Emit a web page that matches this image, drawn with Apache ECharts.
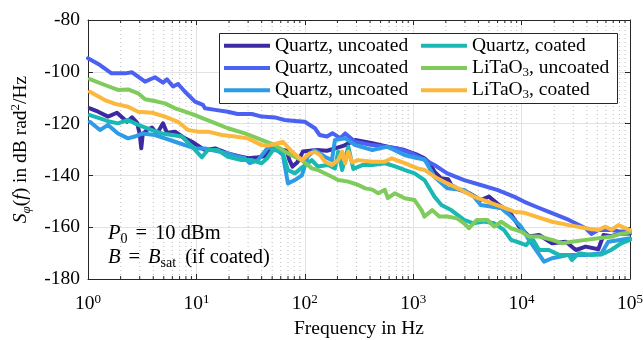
<!DOCTYPE html>
<html>
<head>
<meta charset="utf-8">
<script src="https://cdn.jsdelivr.net/npm/echarts@6/dist/echarts.min.js"></script>
<style>
  html, body { margin: 0; padding: 0; background: #ffffff; }
  #chart { width: 643px; height: 340px; }
</style>
</head>
<body>
<div id="chart"></div>
<script>
// Phase-noise spectra [frequency in Hz, S_phi in dB rad^2/Hz]
const quartzUncoated1 = [
  [1.04,-114.1],[1.24,-115.4],[1.53,-117.3],[1.85,-115.8],[2.29,-119.3],[2.55,-117.6],[2.83,-119.6],
  [3.0,-124],[3.1,-129.5],[3.2,-124],[3.5,-122.5],[3.89,-121.5],[4.33,-123.8],[4.6,-122],[4.92,-119.9],
  [5.35,-123.5],[6.35,-123.1],[7.85,-125.7],[9.1,-127],[11.3,-129.6],[12,-130.2],[14.9,-129.6],
  [19.5,-131.5],[24,-132.5],[30,-133.4],[37,-133],[44,-132.5],[47,-129.6],[60,-130],[68,-130.5],
  [72,-134],[77,-136.6],[85,-135],[96,-130.8],[129,-130.2],[160,-130.5],[190,-129.6],[230,-128.5],
  [292,-126.3],[420,-127.6],[580,-128.9],[830,-130.2],[1100,-132.1],[1270,-133.4],[1420,-135.3],
  [1570,-138.6],[1800,-141.1],[2100,-141.5],[2250,-143.7],[2700,-145.6],[3300,-146.9],[4200,-149.5],
  [5000,-148.2],[6200,-151.4],[7700,-154],[9500,-159.8],[11700,-163.6],[14500,-163],[19100,-166.2],
  [25600,-165.6],[31700,-168.8],[39000,-167.5],[51000,-168.5],[57000,-163],[67000,-163.5],
  [80000,-162.5],[100000,-162.4]
];
const quartzUncoated2 = [
  [1.0,-94.8],[1.29,-97.4],[1.65,-100.6],[2.2,-100.6],[2.55,-100.2],[3.36,-103.8],[4.15,-102.1],
  [4.92,-104.2],[5.35,-102.9],[6.09,-105.7],[6.77,-104.7],[7.85,-107.7],[9.7,-111.5],[11.5,-112.8],
  [12,-114.1],[14.9,-114.7],[19.5,-115.4],[24,-116.3],[32.5,-116.3],[40,-117.3],[53,-117.6],
  [65,-118.6],[81,-119],[100,-119.3],[116,-121],[124,-121.8],[137,-124.4],[160,-125],[180,-123.7],
  [212,-125.6],[236,-123.8],[292,-127],[420,-128.3],[550,-128.9],[720,-129.6],[970,-131.5],
  [1270,-134],[1570,-136],[2060,-139.2],[2950,-141.8],[4200,-143.7],[5950,-145.6],[8500,-148.2],
  [10500,-150.1],[13600,-152.1],[19100,-154.6],[27300,-157.2],[39000,-160.4],[44000,-162.6],
  [51000,-161.1],[67000,-161.1],[83000,-161.7],[100000,-161.7]
];
const quartzUncoated3 = [
  [1.04,-119.3],[1.29,-122.5],[1.53,-120.5],[1.89,-123.8],[2.34,-125.7],[2.7,-125],[3.2,-123.8],
  [4.15,-124.4],[5.13,-125.7],[6.35,-127],[7.85,-128.3],[9.7,-129.6],[12,-129.6],[14.9,-130.5],
  [19.5,-131.5],[22.6,-132.5],[28,-133.4],[31,-135.3],[37,-134.1],[45.7,-129.2],[53,-129.6],
  [62.8,-132.1],[69.9,-143.1],[81,-141.8],[94,-140],[106,-132.8],[123,-130.2],[153,-132.8],
  [178,-134.1],[190,-126.3],[236,-125.7],[292,-128.3],[420,-130.2],[580,-128.9],[830,-132.1],
  [1100,-133.4],[1270,-133.8],[1570,-140.5],[2060,-145],[2950,-145.6],[3600,-148],[4200,-151.4],
  [5200,-152],[6500,-152.7],[8000,-155.9],[9900,-159.8],[11700,-164.9],[13600,-168.8],
  [16100,-173.3],[19100,-172],[27300,-170.7],[39000,-170.7],[54600,-170.1],[63000,-165.6],
  [78000,-165],[100000,-164.3]
];
const quartzCoated = [
  [1.04,-116.7],[1.29,-118],[1.6,-119.3],[1.89,-119.9],[2.34,-118.6],[2.9,-120.5],[3.9,-122.5],
  [4.8,-123.8],[5.96,-124.4],[7.37,-125],[9.1,-128.9],[11.25,-133],[12,-131.5],[12.8,-130.2],
  [15.8,-130.2],[19.5,-132.8],[26,-134.1],[32.5,-134.1],[40,-135.3],[44.7,-133.5],[50.8,-130.2],
  [61.5,-130.5],[69.9,-137.9],[81,-139.2],[94,-137],[116,-134.1],[132,-136.6],[164,-136],
  [190,-137.3],[203,-130.8],[221,-137.9],[252,-128.9],[280,-137.5],[339,-136],[420,-136],
  [550,-135.3],[680,-136.5],[830,-137.9],[1030,-139.2],[1270,-141.8],[1570,-148.2],[1820,-151.4],
  [2240,-153.4],[2950,-157.2],[3600,-158.5],[4500,-157.8],[5600,-158.5],[6900,-161.1],[8000,-164.9],
  [9900,-166.2],[11000,-166.9],[12500,-164.3],[14500,-168.8],[17900,-168.8],[22100,-170.7],
  [27300,-170.7],[29100,-172.7],[33700,-170.1],[44000,-170.7],[54600,-170.5],[67000,-168.8],
  [83000,-166.2],[100000,-164.9]
];
const litaoUncoated = [
  [1.04,-102.8],[1.43,-105.1],[1.89,-107],[2.34,-106.8],[2.9,-108.3],[3.36,-110.6],[4.33,-111.5],
  [5.13,-112.2],[6.35,-114.1],[7.85,-115.4],[9.7,-116.7],[11.5,-118],[13.9,-119.3],[19.5,-121.8],
  [28,-123.8],[40,-126.3],[53,-128.3],[69.9,-131.5],[94,-134.1],[116,-137.3],[132,-137.9],
  [178,-140.5],[203,-141.8],[252,-142.4],[312,-143.7],[361,-145],[419,-145.5],[475,-146.9],
  [548,-145.6],[583,-148.8],[676,-146.9],[834,-148.8],[1030,-149.5],[1193,-153.4],[1270,-155.9],
  [1325,-156.6],[1500,-153.4],[1740,-155.9],[2060,-155.9],[2540,-156.6],[2950,-158.5],[3270,-160.4],
  [3870,-157.2],[4830,-157.2],[5590,-159.8],[6490,-157.9],[8000,-160.4],[9900,-161.7],[11700,-163.6],
  [14500,-163.6],[19100,-164.9],[23600,-166.2],[29100,-165.6],[39000,-164.9],[51000,-164.3],
  [67500,-163.6],[83000,-162.5],[100000,-162]
];
const litaoCoated = [
  [1.04,-107.7],[1.43,-110.9],[1.78,-112.4],[2.34,-113.5],[2.9,-115.4],[3.9,-115.8],[5.13,-117.3],
  [6.77,-119.3],[8.37,-122.5],[10.35,-123.1],[12.8,-123.1],[17.2,-124.4],[22.6,-125],[29.9,-125.7],
  [40,-128.3],[45.7,-128.5],[53,-127.9],[62.8,-127],[76,-130.8],[94,-134.1],[111,-131.5],[124,-131],
  [138,-132.1],[153,-134.7],[178,-136],[203,-134.1],[221,-130.8],[236,-135.3],[252,-130.8],[274,-135],
  [312,-134.1],[419,-134.7],[548,-134.7],[635,-133.4],[834,-135.3],[1100,-137.3],[1270,-137.9],
  [1570,-140.5],[2060,-143.1],[2770,-145.6],[3630,-148.2],[4830,-150.1],[6490,-152.1],[8540,-154],
  [10500,-154.4],[13600,-155.9],[19100,-157.9],[27300,-159.2],[39000,-160.4],[51000,-161.1],
  [59400,-159.8],[67500,-161],[78000,-159.2],[100000,-161.1]
];

// Axis ticks
const xDecades = [1, 10, 100, 1000, 10000, 100000];
const xMinorTicks = [
  2,3,4,5,6,7,8,9, 20,30,40,50,60,70,80,90, 200,300,400,500,600,700,800,900,
  2000,3000,4000,5000,6000,7000,8000,9000, 20000,30000,40000,50000,60000,70000,80000,90000
];
const yTicks = [-180, -160, -140, -120, -100, -80];

const FONT = "'Liberation Serif', 'Times New Roman', serif";
const AXIS_COLOR = '#262626';
const FS = 19.5;
const xMin = xDecades[0], xMax = xDecades[xDecades.length - 1];
const yMin = yTicks[0], yMax = yTicks[yTicks.length - 1];

const seriesDefs = [
  { name: 'Quartz, uncoated #1', color: '#3d2aa3', data: quartzUncoated1 },
  { name: 'Quartz, uncoated #2', color: '#4a61f2', data: quartzUncoated2 },
  { name: 'Quartz, uncoated #3', color: '#2e9be6', data: quartzUncoated3 },
  { name: 'Quartz, coated',      color: '#19b8b3', data: quartzCoated },
  { name: 'LiTaO3, uncoated',    color: '#7fcb5b', data: litaoUncoated },
  { name: 'LiTaO3, coated',      color: '#fbb83c', data: litaoCoated }
];

const richBase = {
  n:   { fontFamily: FONT, fontSize: FS, color: '#000' },
  i:   { fontFamily: FONT, fontSize: FS, fontStyle: 'italic', color: '#000' },
  sub: { fontFamily: FONT, fontSize: 13, color: '#000', verticalAlign: 'bottom', lineHeight: 15 },
  subi:{ fontFamily: FONT, fontSize: 13, fontStyle: 'italic', color: '#000', verticalAlign: 'bottom', lineHeight: 15 },
  sup: { fontFamily: FONT, fontSize: 13, color: '#000', verticalAlign: 'top', lineHeight: 15 }
};

// annotation text in the lower-left corner, slightly larger with math spacing
const richNote = {
  n:   { fontFamily: FONT, fontSize: 20.5, color: '#000' },
  i:   { fontFamily: FONT, fontSize: 20.5, fontStyle: 'italic', color: '#000' },
  eq:  { fontFamily: FONT, fontSize: 20.5, color: '#000', padding: [0, 8, 0, 8] },
  sub: { fontFamily: FONT, fontSize: 14, color: '#000', verticalAlign: 'bottom', lineHeight: 15 },
  gap: { fontFamily: FONT, fontSize: 20.5, color: '#000', padding: [0, 0, 0, 9] }
};

function legendLabel(name) {
  const base = name.replace(/ #\d$/, '');
  if (base.startsWith('LiTaO3')) {
    return '{n|LiTaO}{sub|3}{n|' + base.slice(6) + '}';
  }
  return '{n|' + base + '}';
}

const chart = echarts.init(document.getElementById('chart'), null, { renderer: 'canvas' });

const commonX = { type: 'log', logBase: 10, min: xMin, max: xMax, gridIndex: 0 };
const commonY = { type: 'value', min: yMin, max: yMax, interval: 20, gridIndex: 0 };

const option = {
  animation: false,
  backgroundColor: '#ffffff',
  grid: { left: 88, right: 13, top: 20, bottom: 61, containLabel: false, outerBoundsMode: 'none' },
  xAxis: [
    Object.assign({}, commonX, {
      position: 'bottom',
      axisLine: { show: true, lineStyle: { color: AXIS_COLOR, width: 1 } },
      axisTick: { show: true, inside: true, length: 5, lineStyle: { color: AXIS_COLOR } },
      axisLabel: {
        margin: 14,
        formatter: v => '{b|10}{s|' + Math.round(Math.log10(v)) + '}',
        rich: {
          b: { fontFamily: FONT, fontSize: FS, color: '#000', lineHeight: 22 },
          s: { fontFamily: FONT, fontSize: 13, color: '#000', verticalAlign: 'top', lineHeight: 14 }
        }
      },
      splitLine: { show: true, lineStyle: { color: '#e2e2e2', width: 1 } },
      name: 'Frequency in Hz',
      nameLocation: 'middle',
      nameGap: 40,
      nameTextStyle: { fontFamily: FONT, fontSize: FS, color: '#000' }
    }),
    Object.assign({}, commonX, {
      position: 'top',
      axisLine: { show: true, lineStyle: { color: AXIS_COLOR, width: 1 } },
      axisTick: { show: true, inside: true, length: 5, lineStyle: { color: AXIS_COLOR } },
      axisLabel: { show: false },
      splitLine: { show: false }
    })
  ],
  yAxis: [
    Object.assign({}, commonY, {
      position: 'left',
      axisLine: { show: true, lineStyle: { color: AXIS_COLOR, width: 1 } },
      axisTick: { show: true, inside: true, length: 5, lineStyle: { color: AXIS_COLOR } },
      axisLabel: { margin: 8, fontFamily: FONT, fontSize: FS, color: '#000' },
      splitLine: { show: true, lineStyle: { color: '#e2e2e2', width: 1 } },
      name: '{i|S}{subi|φ}{n|(}{i|f}{n|) in dB rad}{sup|2}{n|/Hz}',
      nameLocation: 'middle',
      nameGap: 40,
      nameRotate: 90,
      nameTextStyle: { rich: richBase, lineHeight: 24 }
    }),
    Object.assign({}, commonY, {
      position: 'right',
      axisLine: { show: true, lineStyle: { color: AXIS_COLOR, width: 1 } },
      axisTick: { show: true, inside: true, length: 5, lineStyle: { color: AXIS_COLOR } },
      axisLabel: { show: false },
      splitLine: { show: false }
    })
  ],
  legend: [
    {
      data: seriesDefs.slice(0, 3).map(s => s.name),
      orient: 'vertical', left: 224, top: 34.5, padding: 0, itemGap: 0,
      itemWidth: 46, itemHeight: 4, icon: 'rect', itemStyle: { borderWidth: 0 },
      formatter: legendLabel,
      textStyle: { rich: richBase, lineHeight: 22.3 },
      selectedMode: false, z: 20
    },
    {
      data: seriesDefs.slice(3).map(s => s.name),
      orient: 'vertical', left: 421, top: 34.5, padding: 0, itemGap: 0,
      itemWidth: 46, itemHeight: 4, icon: 'rect', itemStyle: { borderWidth: 0 },
      formatter: legendLabel,
      textStyle: { rich: richBase, lineHeight: 22.3 },
      selectedMode: false, z: 20
    }
  ],
  graphic: [
    {
      type: 'rect', left: 219, top: 33, z: 15,
      shape: { width: 398, height: 70 },
      style: { fill: '#ffffff', stroke: AXIS_COLOR, lineWidth: 1 }
    },
    {
      type: 'text', left: 108, top: 222, z: 15,
      style: {
        text: '{i|P}{sub|0}{eq|=}{n|10 dBm}',
        rich: richNote, lineHeight: 24
      }
    },
    {
      type: 'text', left: 108, top: 246, z: 15,
      style: {
        text: '{i|B}{eq|=}{i|B}{sub|sat}{gap|(if coated)}',
        rich: richNote, lineHeight: 24
      }
    }
  ],
  series: [
    {
      // minor decade grid (2..9) with short inward ticks on both frame edges
      type: 'custom',
      silent: true,
      z: 1,
      data: xMinorTicks.map(f => [f, yMin]),
      encode: { x: 0, y: 1 },
      renderItem: (params, api) => {
        const f = api.value(0);
        const bot = api.coord([f, yMin]);
        const top = api.coord([f, yMax]);
        return {
          type: 'group',
          children: [
            { type: 'line', shape: { x1: bot[0], y1: bot[1], x2: top[0], y2: top[1] },
              style: { stroke: '#bdbdbd', lineWidth: 1, lineDash: [1, 3] } },
            { type: 'line', shape: { x1: bot[0], y1: bot[1], x2: bot[0], y2: bot[1] - 3 },
              style: { stroke: AXIS_COLOR, lineWidth: 1 } },
            { type: 'line', shape: { x1: top[0], y1: top[1], x2: top[0], y2: top[1] + 3 },
              style: { stroke: AXIS_COLOR, lineWidth: 1 } }
          ]
        };
      }
    }
  ].concat(seriesDefs.map(s => ({
    type: 'line',
    name: s.name,
    data: s.data,
    symbol: 'none',
    showSymbol: false,
    clip: true,
    z: 3,
    lineStyle: { width: 4, color: s.color, join: 'round', cap: 'round' },
    itemStyle: { color: s.color }
  })))
};

chart.setOption(option);
</script>
</body>
</html>
